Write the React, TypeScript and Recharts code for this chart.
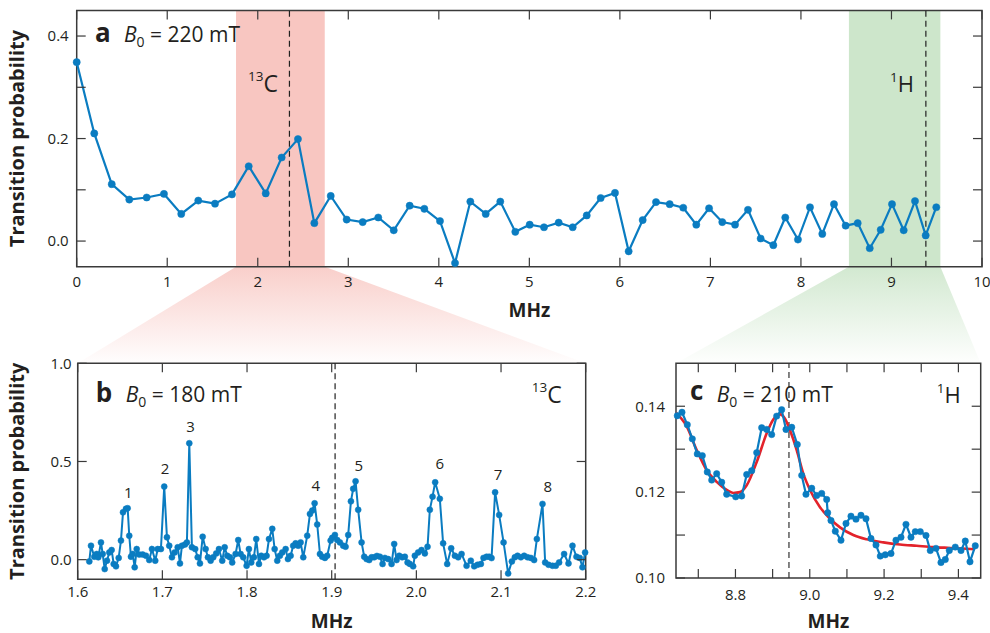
import React from 'react';
import { LineChart, Line, XAxis, YAxis, ReferenceArea, ReferenceLine, ReferenceDot, Label } from 'recharts';

const FONT = '"Open Sans", "Noto Sans", "DejaVu Sans", sans-serif';
const INK = '#231f20';
const AXIS = '#3a3a3a';
const BLUE = '#0a7cc1';
const RED = '#e3232b';
const PINK = '#f8c6c1';
const GREEN = '#cde6cb';

// ---------- Panel a (B0 = 220 mT) ----------
const aFreq = [0, 0.194, 0.387, 0.581, 0.773, 0.964, 1.155, 1.343, 1.528, 1.715, 1.9, 2.088, 2.264, 2.444, 2.625, 2.806, 2.982, 3.159, 3.331, 3.502, 3.678, 3.84, 4.013, 4.179, 4.348, 4.518, 4.679, 4.845, 5.004, 5.162, 5.324, 5.479, 5.634, 5.788, 5.946, 6.097, 6.252, 6.399, 6.55, 6.7, 6.844, 6.985, 7.131, 7.272, 7.415, 7.555, 7.695, 7.827, 7.967, 8.1, 8.236, 8.365, 8.494, 8.627, 8.76, 8.881, 9.006, 9.135, 9.26, 9.378, 9.495];
const aVals = [0.349, 0.21, 0.111, 0.081, 0.085, 0.092, 0.053, 0.079, 0.073, 0.091, 0.146, 0.093, 0.163, 0.199, 0.035, 0.088, 0.042, 0.037, 0.046, 0.021, 0.069, 0.063, 0.039, -0.043, 0.077, 0.053, 0.077, 0.018, 0.032, 0.027, 0.036, 0.027, 0.05, 0.084, 0.094, -0.02, 0.041, 0.076, 0.072, 0.065, 0.032, 0.064, 0.037, 0.032, 0.061, 0.005, -0.008, 0.046, 0.003, 0.066, 0.014, 0.072, 0.03, 0.035, -0.014, 0.022, 0.072, 0.021, 0.078, 0.011, 0.066];
const aXDomain = [0, 10];
const aYDomain = [-0.05, 0.45];
const aXTicks = [0, 1, 2, 3, 4, 5, 6, 7, 8, 9, 10];
const aYTicks = [0, 0.1, 0.2, 0.3, 0.4];
const aYLabels = [0, 0.2, 0.4];
const aCarbonBand = [1.76, 2.74];
const aHydrogenBand = [8.53, 9.54];
const aCarbonLine = 2.35;
const aHydrogenLine = 9.38;

// ---------- Panel b (B0 = 180 mT) ----------
const bFreq = [1.6137, 1.6157, 1.6196, 1.6224, 1.6243, 1.6275, 1.6295, 1.6319, 1.6346, 1.6373, 1.6401, 1.6425, 1.6452, 1.6484, 1.6511, 1.6535, 1.657, 1.659, 1.6609, 1.6629, 1.6649, 1.6673, 1.6697, 1.6727, 1.6767, 1.6806, 1.6845, 1.6877, 1.6916, 1.6945, 1.6983, 1.7022, 1.7054, 1.7081, 1.7113, 1.7145, 1.7181, 1.7208, 1.7231, 1.7267, 1.729, 1.7318, 1.7349, 1.7388, 1.7417, 1.7444, 1.7476, 1.7511, 1.7538, 1.757, 1.7601, 1.7636, 1.7668, 1.7707, 1.7736, 1.7766, 1.7798, 1.7825, 1.7865, 1.7896, 1.7924, 1.7955, 1.7995, 1.8022, 1.805, 1.8081, 1.8109, 1.8141, 1.8168, 1.82, 1.8231, 1.8259, 1.8298, 1.8326, 1.8357, 1.8388, 1.8416, 1.8456, 1.8483, 1.8515, 1.8545, 1.8574, 1.8604, 1.8633, 1.8664, 1.8711, 1.8743, 1.877, 1.8798, 1.8829, 1.8861, 1.8888, 1.892, 1.8947, 1.8987, 1.9006, 1.9038, 1.9065, 1.9097, 1.9136, 1.9164, 1.9195, 1.9227, 1.9254, 1.9282, 1.9313, 1.9353, 1.9384, 1.9412, 1.9443, 1.9471, 1.9502, 1.9534, 1.9569, 1.9601, 1.9628, 1.9667, 1.9707, 1.9738, 1.9766, 1.9797, 1.9832, 1.9864, 1.9896, 1.9923, 1.9962, 1.9982, 2.0021, 2.0061, 2.01, 2.0132, 2.0159, 2.0191, 2.0222, 2.0277, 2.0316, 2.0364, 2.0411, 2.0455, 2.0494, 2.0534, 2.0593, 2.0643, 2.0683, 2.0723, 2.0762, 2.0793, 2.0829, 2.086, 2.0888, 2.093, 2.0978, 2.103, 2.1084, 2.1128, 2.1163, 2.1195, 2.1234, 2.1273, 2.1313, 2.1352, 2.1391, 2.1423, 2.149, 2.1521, 2.1561, 2.1608, 2.1647, 2.1686, 2.1745, 2.1797, 2.1844, 2.1891, 2.193, 2.1962, 2.1993];
const bVals = [-0.009, 0.071, 0.015, 0.029, 0.012, 0.088, 0.029, -0.048, -0.005, 0.037, 0.049, -0.022, -0.034, 0.009, 0.097, 0.241, 0.259, 0.262, 0.122, 0.015, 0.029, -0.039, 0.054, 0.026, 0.026, 0.02, -0.002, 0.054, -0.005, 0.054, 0.054, 0.372, 0.114, 0.071, 0.012, 0.037, 0.063, -0.019, 0.071, 0.077, 0.088, 0.593, 0.063, 0.054, 0.012, -0.019, 0.117, 0.054, 0.012, -0.005, 0.012, 0.032, 0.054, -0.005, 0.063, 0.02, 0.012, -0.014, 0.029, 0.1, 0.029, 0.012, -0.031, 0.054, -0.014, 0.012, 0.105, -0.022, 0.02, 0.012, 0.02, 0.105, 0.157, 0.054, -0.005, 0.02, 0.037, 0.054, 0.003, 0.02, 0.071, 0.083, 0.071, 0.088, 0.012, 0.122, 0.233, 0.25, 0.287, 0.179, 0.029, 0.015, 0.009, 0.02, 0.097, 0.111, 0.126, 0.1, 0.088, 0.071, 0.066, 0.126, 0.297, 0.361, 0.399, 0.254, 0.088, 0.015, 0.003, -0.002, 0.012, 0.012, 0.019, 0.015, -0.022, 0.009, 0.003, -0.022, 0.08, -0.002, 0.02, 0.012, 0.015, -0.014, -0.022, -0.034, 0.02, 0.037, 0.049, 0.032, 0.066, 0.254, 0.321, 0.394, 0.31, 0.083, -0.022, 0.058, 0.02, 0.012, 0.029, -0.031, -0.005, -0.034, -0.026, -0.022, 0.009, 0.015, 0.015, 0.008, 0.343, 0.228, 0.088, -0.07, -0.009, 0.012, 0.02, 0.012, 0.02, 0.012, 0.009, -0.002, 0.105, 0.284, -0.014, -0.026, -0.031, -0.031, -0.014, 0.029, -0.019, 0.071, 0.015, 0.009, -0.039, 0.037];
const bXDomain = [1.6, 2.2];
const bYDomain = [-0.1, 1.0];
const bXTicks = [1.6, 1.7, 1.8, 1.9, 2.0, 2.1, 2.2];
const bYTicks = [0, 0.5, 1.0];
const bLine = 1.904;
const bPeakNames = ['1', '2', '3', '4', '5', '6', '7', '8'];
const bPeakFreq = [1.6597, 1.7031, 1.7334, 1.8813, 1.9321, 2.0277, 2.0966, 2.1553];
const bPeakLevel = [0.343, 0.464, 0.679, 0.378, 0.48, 0.491, 0.434, 0.372];

// ---------- Panel c (B0 = 210 mT) ----------
const cFreq = [8.6435, 8.6561, 8.6704, 8.6839, 8.6973, 8.7108, 8.7242, 8.7361, 8.7495, 8.763, 8.7764, 8.8007, 8.8168, 8.8303, 8.8437, 8.8572, 8.8706, 8.8841, 8.8975, 8.911, 8.9244, 8.936, 8.9514, 8.9664, 8.9783, 8.9898, 9.0052, 9.0186, 9.0321, 9.0455, 9.0482, 9.0571, 9.0687, 9.084, 9.0975, 9.1109, 9.1244, 9.1378, 9.1513, 9.1647, 9.1782, 9.1898, 9.2032, 9.2186, 9.232, 9.2455, 9.2589, 9.2724, 9.284, 9.2974, 9.3128, 9.3243, 9.3397, 9.3531, 9.3647, 9.3755, 9.3916, 9.407, 9.4185, 9.4312, 9.4454];
const cVals = [0.1378, 0.1386, 0.1357, 0.1324, 0.1289, 0.1285, 0.1247, 0.1228, 0.1243, 0.1223, 0.1195, 0.1189, 0.1191, 0.1241, 0.125, 0.1292, 0.135, 0.1346, 0.1334, 0.1377, 0.1392, 0.1346, 0.1351, 0.1311, 0.1239, 0.1195, 0.1209, 0.1192, 0.1197, 0.1183, 0.1152, 0.1134, 0.1109, 0.1088, 0.1127, 0.1144, 0.1137, 0.1146, 0.1138, 0.1092, 0.1077, 0.1051, 0.1054, 0.1057, 0.1088, 0.1095, 0.1125, 0.1095, 0.1108, 0.1108, 0.1099, 0.1064, 0.1069, 0.1036, 0.1043, 0.1064, 0.1072, 0.1064, 0.1086, 0.1038, 0.1075];
const fitFreq = [8.64, 8.6688, 8.6957, 8.7226, 8.7495, 8.7764, 8.7942, 8.8122, 8.8303, 8.8572, 8.8841, 8.9018, 8.9199, 8.9333, 8.9468, 8.9648, 8.9826, 9.0006, 9.0275, 9.0544, 9.0813, 9.1171, 9.1532, 9.1979, 9.2428, 9.2877, 9.3324, 9.3774, 9.4446];
const fitVals = [0.1385, 0.1353, 0.1298, 0.1251, 0.1224, 0.1205, 0.1198, 0.12, 0.1216, 0.127, 0.1337, 0.1369, 0.1381, 0.1371, 0.1344, 0.1298, 0.1243, 0.1205, 0.1165, 0.1138, 0.1118, 0.11, 0.109, 0.1083, 0.1078, 0.1075, 0.1072, 0.107, 0.1067];
const cXDomain = [8.64, 9.46];
const cYDomain = [0.1, 0.15];
const cXTicks = [8.7, 8.8, 8.9, 9.0, 9.1, 9.2, 9.3, 9.4];
const cXLabels = [8.8, 9.0, 9.2, 9.4];
const cYTicks = [0.1, 0.11, 0.12, 0.13, 0.14];
const cYLabels = [0.1, 0.12, 0.14];
const cLine = 8.944;

// ---------- layout ----------
const GA = { left: 76.7, right: 982, top: 10.4, bottom: 266.7 };
const GB = { left: 77.7, right: 585.7, top: 363.3, bottom: 579.3 };
const GC = { left: 676, right: 980.7, top: 363.3, bottom: 578 };
const TICK = 9;

const aData = aFreq.map((f, i) => ({ f, v: aVals[i] }));
const bData = bFreq.map((f, i) => ({ f, v: bVals[i] }));
const cData = cFreq.map((f, i) => ({ f, v: cVals[i] }));
const fitData = fitFreq.map((f, i) => ({ f, v: fitVals[i] }));

const near = (arr: number[], v: number) => arr.some((a) => Math.abs(a - v) < 1e-6);

function makeXTick(plotH: number, labels: number[], fmt: (v: number) => string, labelDy: number) {
  return (props: any) => {
    const { x, y, payload } = props;
    const v = payload.value;
    return (
      <g>
        <line x1={x} x2={x} y1={y} y2={y - TICK} stroke={AXIS} strokeWidth={1.2} />
        <line x1={x} x2={x} y1={y - plotH} y2={y - plotH + TICK} stroke={AXIS} strokeWidth={1.2} />
        {near(labels, v) && (
          <text x={x} y={y + labelDy} textAnchor="middle" fontSize={15} fill={INK} fontFamily={FONT}>
            {fmt(v)}
          </text>
        )}
      </g>
    );
  };
}

function makeYTick(plotW: number, labels: number[], fmt: (v: number) => string, gap: number) {
  return (props: any) => {
    const { x, y, payload } = props;
    const v = payload.value;
    return (
      <g>
        <line x1={x} x2={x + TICK} y1={y} y2={y} stroke={AXIS} strokeWidth={1.2} />
        <line x1={x + plotW} x2={x + plotW - TICK} y1={y} y2={y} stroke={AXIS} strokeWidth={1.2} />
        {near(labels, v) && (
          <text x={x - gap} y={y + 5.3} textAnchor="end" fontSize={15} fill={INK} fontFamily={FONT}>
            {fmt(v)}
          </text>
        )}
      </g>
    );
  };
}

const yTitle = (props: any) => {
  const vb = props.viewBox || { x: 0, y: 0, width: 0, height: 0 };
  const cy = vb.y + vb.height / 2;
  return (
    <text transform={`translate(23.5, ${cy}) rotate(-90)`} textAnchor="middle" fontSize={20} fontWeight={700} fill={INK} fontFamily={FONT}>
      Transition probability
    </text>
  );
};

const xTitle = (offset: number) => (props: any) => {
  const vb = props.viewBox || { x: 0, y: 0, width: 0, height: 0 };
  return (
    <text x={vb.x + vb.width / 2} y={vb.y + offset} textAnchor="middle" fontSize={19} fontWeight={700} fill={INK} fontFamily={FONT}>
      MHz
    </text>
  );
};

const dotStyle = (r: number) => ({ r, fill: BLUE, stroke: BLUE, strokeWidth: 0.5 });

export default function App() {
  const aW = GA.right - GA.left;
  const aH = GA.bottom - GA.top;
  const bW = GB.right - GB.left;
  const bH = GB.bottom - GB.top;
  const cW = GC.right - GC.left;
  const cH = GC.bottom - GC.top;
  const aPx = (f: number) => GA.left + ((f - aXDomain[0]) / (aXDomain[1] - aXDomain[0])) * aW;

  const textStyle: React.CSSProperties = { whiteSpace: 'pre' };

  return (
    <div style={{ position: 'absolute', left: 0, top: 0, width: 990, height: 633, background: '#fff', fontFamily: FONT }}>
      {/* zoom fans */}
      <svg width={990} height={633} style={{ position: 'absolute', left: 0, top: 0 }}>
        <defs>
          <linearGradient id="fanPink" x1="0" y1="0" x2="0" y2="1">
            <stop offset="0%" stopColor={PINK} stopOpacity={0.85} />
            <stop offset="100%" stopColor={PINK} stopOpacity={0.02} />
          </linearGradient>
          <linearGradient id="fanGreen" x1="0" y1="0" x2="0" y2="1">
            <stop offset="0%" stopColor={GREEN} stopOpacity={0.9} />
            <stop offset="100%" stopColor={GREEN} stopOpacity={0.02} />
          </linearGradient>
        </defs>
        <polygon
          points={`${aPx(aCarbonBand[0])},${GA.bottom} ${aPx(aCarbonBand[1])},${GA.bottom} ${GB.right},${GB.top} ${GB.left},${GB.top}`}
          fill="url(#fanPink)"
        />
        <polygon
          points={`${aPx(aHydrogenBand[0])},${GA.bottom} ${aPx(aHydrogenBand[1])},${GA.bottom} ${GC.right},${GC.top} ${GC.left},${GC.top}`}
          fill="url(#fanGreen)"
        />
      </svg>

      {/* Panel a */}
      <div style={{ position: 'absolute', left: 0, top: 0 }}>
        <LineChart width={990} height={330} data={aData} margin={{ top: GA.top, right: 990 - GA.right, bottom: 0, left: 0 }}>
          <ReferenceArea x1={aCarbonBand[0]} x2={aCarbonBand[1]} fill={PINK} fillOpacity={1} stroke="none" />
          <ReferenceArea x1={aHydrogenBand[0]} x2={aHydrogenBand[1]} fill={GREEN} fillOpacity={1} stroke="none" />
          <ReferenceLine x={aCarbonLine} stroke="#222" strokeDasharray="6 4" strokeWidth={1.2} />
          <ReferenceLine x={aHydrogenLine} stroke="#222" strokeDasharray="6 4" strokeWidth={1.2} />
          <XAxis
            dataKey="f"
            type="number"
            domain={aXDomain}
            ticks={aXTicks}
            interval={0}
            height={330 - GA.bottom}
            axisLine={false}
            tickLine={false}
            tickSize={0}
            tickMargin={0}
            tick={makeXTick(aH, aXTicks, (v) => String(v), 20)}
          >
            <Label content={xTitle(50.3)} />
          </XAxis>
          <YAxis
            type="number"
            domain={aYDomain}
            ticks={aYTicks}
            interval={0}
            width={GA.left}
            axisLine={false}
            tickLine={false}
            tickSize={0}
            tickMargin={0}
            tick={makeYTick(aW, aYLabels, (v) => v.toFixed(1), 8)}
          >
            <Label content={yTitle} />
          </YAxis>
          <ReferenceArea x1={aXDomain[0]} x2={aXDomain[1]} y1={aYDomain[0]} y2={aYDomain[1]} fill="none" stroke={AXIS} strokeWidth={1.5} />
          <Line dataKey="v" stroke={BLUE} strokeWidth={2.2} dot={dotStyle(3.6)} activeDot={false} isAnimationActive={false} />
        </LineChart>
      </div>

      {/* Panel b */}
      <div style={{ position: 'absolute', left: 0, top: 340 }}>
        <LineChart width={600} height={293} data={bData} margin={{ top: GB.top - 340, right: 600 - GB.right, bottom: 0, left: 0 }}>
          <ReferenceLine x={bLine} stroke="#222" strokeDasharray="6 4" strokeWidth={1.2} />
          <XAxis
            dataKey="f"
            type="number"
            domain={bXDomain}
            ticks={bXTicks}
            interval={0}
            height={633 - GB.bottom}
            axisLine={false}
            tickLine={false}
            tickSize={0}
            tickMargin={0}
            tick={makeXTick(bH, bXTicks, (v) => v.toFixed(1), 18)}
          >
            <Label content={xTitle(48.5)} />
          </XAxis>
          <YAxis
            type="number"
            domain={bYDomain}
            ticks={bYTicks}
            interval={0}
            width={GB.left}
            axisLine={false}
            tickLine={false}
            tickSize={0}
            tickMargin={0}
            tick={makeYTick(bW, bYTicks, (v) => v.toFixed(1), 6)}
          >
            <Label content={yTitle} />
          </YAxis>
          <ReferenceArea x1={bXDomain[0]} x2={bXDomain[1]} y1={bYDomain[0]} y2={bYDomain[1]} fill="none" stroke={AXIS} strokeWidth={1.5} />
          <Line dataKey="v" stroke={BLUE} strokeWidth={2} dot={dotStyle(3)} activeDot={false} isAnimationActive={false} />
          {bPeakNames.map((name, i) => (
            <ReferenceDot
              key={name}
              x={bPeakFreq[i]}
              y={bPeakLevel[i]}
              r={0}
              fill="none"
              stroke="none"
              label={{ value: name, position: 'center', fontSize: 15, fill: INK, fontFamily: FONT }}
            />
          ))}
        </LineChart>
      </div>

      {/* Panel c */}
      <div style={{ position: 'absolute', left: 600, top: 340 }}>
        <LineChart width={390} height={293} margin={{ top: GC.top - 340, right: 990 - GC.right, bottom: 0, left: 0 }}>
          <ReferenceLine x={cLine} stroke="#333" strokeDasharray="6 4" strokeWidth={1.2} />
          <XAxis
            dataKey="f"
            type="number"
            domain={cXDomain}
            ticks={cXTicks}
            interval={0}
            height={633 - GC.bottom}
            axisLine={false}
            tickLine={false}
            tickSize={0}
            tickMargin={0}
            allowDuplicatedCategory={false}
            tick={makeXTick(cH, cXLabels, (v) => v.toFixed(1), 22)}
          >
            <Label content={xTitle(49.8)} />
          </XAxis>
          <YAxis
            type="number"
            domain={cYDomain}
            ticks={cYTicks}
            interval={0}
            width={GC.left - 600}
            axisLine={false}
            tickLine={false}
            tickSize={0}
            tickMargin={0}
            tick={makeYTick(cW, cYLabels, (v) => v.toFixed(2), 11)}
          />
          <ReferenceArea x1={cXDomain[0]} x2={cXDomain[1]} y1={cYDomain[0]} y2={cYDomain[1]} fill="none" stroke={AXIS} strokeWidth={1.5} />
          <Line data={fitData} dataKey="v" type="monotone" stroke={RED} strokeWidth={2.6} dot={false} activeDot={false} isAnimationActive={false} />
          <Line data={cData} dataKey="v" stroke={BLUE} strokeWidth={2.2} dot={dotStyle(3.2)} activeDot={false} isAnimationActive={false} />
        </LineChart>
      </div>

      {/* annotations */}
      <svg width={990} height={633} style={{ position: 'absolute', left: 0, top: 0, pointerEvents: 'none' }} fontFamily={FONT} fill={INK}>
        <text x={95} y={42} fontSize={26} fontWeight={700}>a</text>
        <text x={124} y={42} fontSize={21} style={textStyle}>
          <tspan fontStyle="italic">B</tspan>
          <tspan fontSize={14} dy={5}>0</tspan>
          <tspan dy={-5}>{' = 220 mT'}</tspan>
        </text>
        <text x={248} y={92} fontSize={23}>
          <tspan fontSize={13.5} dy={-11}>13</tspan>
          <tspan dy={11}>C</tspan>
        </text>
        <text x={890} y={92} fontSize={22}>
          <tspan fontSize={13.5} dy={-10}>1</tspan>
          <tspan dy={10}>H</tspan>
        </text>

        <text x={95.7} y={401.7} fontSize={26} fontWeight={700}>b</text>
        <text x={125.7} y={401.7} fontSize={21} style={textStyle}>
          <tspan fontStyle="italic">B</tspan>
          <tspan fontSize={14} dy={5}>0</tspan>
          <tspan dy={-5}>{' = 180 mT'}</tspan>
        </text>
        <text x={531.7} y={403} fontSize={23}>
          <tspan fontSize={13.5} dy={-11}>13</tspan>
          <tspan dy={11}>C</tspan>
        </text>

        <text x={690} y={400} fontSize={26} fontWeight={700}>c</text>
        <text x={716.7} y={401.7} fontSize={21} style={textStyle}>
          <tspan fontStyle="italic">B</tspan>
          <tspan fontSize={14} dy={5}>0</tspan>
          <tspan dy={-5}>{' = 210 mT'}</tspan>
        </text>
        <text x={936.7} y={402.7} fontSize={22}>
          <tspan fontSize={13.5} dy={-10}>1</tspan>
          <tspan dy={10}>H</tspan>
        </text>
      </svg>
    </div>
  );
}
